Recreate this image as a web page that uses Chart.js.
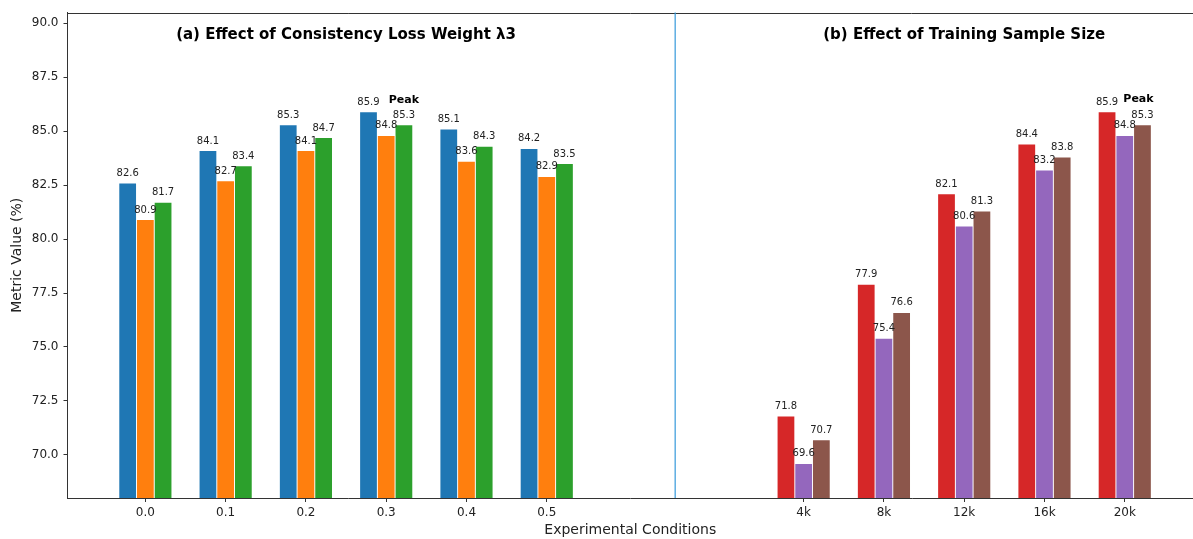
<!DOCTYPE html>
<html>
<head>
<meta charset="utf-8">
<script src="https://cdn.jsdelivr.net/npm/chart.js@4"></script>
<style>
  html, body { margin: 0; padding: 0; background: #fff; }
  canvas { display: block; }
</style>
</head>
<body>
<canvas id="chart" width="1193" height="539"></canvas>
<script>
// panel (a): consistency loss weight, panel (b): training sample size
const lambdaLabels = ['0.0', '0.1', '0.2', '0.3', '0.4', '0.5'];
const lambdaPos = [0, 1, 2, 3, 4, 5];
const sizeLabels = ['4k', '8k', '12k', '16k', '20k'];
const sizePos = [8.2, 9.2, 10.2, 11.2, 12.2];
const dividerPos = 6.6;

const lambdaBlue = [82.6, 84.1, 85.3, 85.9, 85.1, 84.2];
const lambdaOrange = [80.9, 82.7, 84.1, 84.8, 83.6, 82.9];
const lambdaGreen = [81.7, 83.4, 84.7, 85.3, 84.3, 83.5];

const sizeRed = [71.8, 77.9, 82.1, 84.4, 85.9];
const sizePurple = [69.6, 75.4, 80.6, 83.2, 84.8];
const sizeBrown = [70.7, 76.6, 81.3, 83.8, 85.3];

const yTicks = [70, 72.5, 75, 77.5, 80, 82.5, 85, 87.5, 90];

const FONT = '"DejaVu Sans", sans-serif';
const allPos = [...lambdaPos, ...sizePos];
const allLabels = [...lambdaLabels, ...sizeLabels];

function bars(pos, vals, color, stack) {
  return {
    data: pos.map((x, i) => ({ x, y: vals[i] })),
    backgroundColor: color,
    borderColor: 'rgba(255,255,255,0.55)',
    borderWidth: 0.8,
    barThickness: 17.7,
    stack,
  };
}

const datasets = [
  bars(lambdaPos, lambdaBlue, '#1f77b4', 's0'),
  bars(lambdaPos, lambdaOrange, '#ff7f0e', 's1'),
  bars(lambdaPos, lambdaGreen, '#2ca02c', 's2'),
  bars(sizePos, sizeRed, '#d62728', 's0'),
  bars(sizePos, sizePurple, '#9467bd', 's1'),
  bars(sizePos, sizeBrown, '#8c564b', 's2'),
];

const annotate = {
  id: 'annotate',
  afterDatasetsDraw(chart) {
    const { ctx, chartArea: a, scales: { x } } = chart;
    ctx.save();

    // top spine
    ctx.strokeStyle = '#333';
    ctx.lineWidth = 1;
    ctx.beginPath();
    ctx.moveTo(a.left, Math.round(a.top) + 0.5);
    ctx.lineTo(a.right, Math.round(a.top) + 0.5);
    ctx.stroke();

    // divider between the two panels
    const dx = x.getPixelForValue(dividerPos);
    ctx.strokeStyle = 'rgba(52,152,219,0.8)';
    ctx.lineWidth = 1.5;
    ctx.beginPath();
    ctx.moveTo(dx, a.top);
    ctx.lineTo(dx, a.bottom);
    ctx.stroke();

    // value labels
    ctx.fillStyle = '#222';
    ctx.font = '10px ' + FONT;
    ctx.textAlign = 'center';
    ctx.textBaseline = 'alphabetic';
    chart.data.datasets.forEach((ds, di) => {
      chart.getDatasetMeta(di).data.forEach((el, i) => {
        ctx.fillText(ds.data[i].y.toFixed(1), el.x, el.y - 7);
      });
    });

    // peak markers, over the third bar of the best group
    ctx.fillStyle = '#000';
    ctx.font = 'bold 11px ' + FONT;
    const peakA = chart.getDatasetMeta(0).data[3];
    ctx.fillText('Peak', chart.getDatasetMeta(2).data[3].x, peakA.y - 9);
    const peakB = chart.getDatasetMeta(3).data[4];
    ctx.fillText('Peak', chart.getDatasetMeta(5).data[4].x - 4, peakB.y - 10);

    // panel titles
    ctx.font = 'bold 15px ' + FONT;
    ctx.textBaseline = 'middle';
    ctx.fillText('(a) Effect of Consistency Loss Weight λ3', x.getPixelForValue(2.5), 35.5);
    ctx.fillText('(b) Effect of Training Sample Size', x.getPixelForValue(10.2), 35.5);

    ctx.restore();
  }
};

new Chart(document.getElementById('chart'), {
  type: 'bar',
  data: { datasets },
  plugins: [annotate],
  options: {
    responsive: false,
    animation: false,
    layout: { padding: { top: 12.5, right: 0, left: 0, bottom: 0 } },
    plugins: { legend: { display: false }, tooltip: { enabled: false } },
    scales: {
      x: {
        type: 'linear',
        offset: false,
        min: -0.97,
        max: 13.05,
        afterBuildTicks: s => { s.ticks = allPos.map(v => ({ value: v })); },
        afterFit: s => { s.height = 41; },
        ticks: {
          autoSkip: false,
          maxRotation: 0,
          padding: 4,
          color: '#222',
          font: { family: FONT, size: 12 },
          callback: (v, i) => allLabels[i],
        },
        grid: { drawOnChartArea: false, drawTicks: true, tickLength: 4, color: '#333', offset: false },
        border: { color: '#333', width: 1 },
        title: {
          display: true,
          text: 'Experimental Conditions',
          color: '#222',
          font: { family: FONT, size: 14 },
          padding: { top: 0, bottom: 0 },
        },
      },
      y: {
        min: 68,
        max: 90.5,
        stacked: false,
        afterBuildTicks: s => { s.ticks = yTicks.map(v => ({ value: v })); },
        afterFit: s => { s.width = 67.5; },
        ticks: {
          padding: 5,
          color: '#222',
          font: { family: FONT, size: 12 },
          callback: v => Number(v).toFixed(1),
        },
        grid: { drawOnChartArea: false, drawTicks: true, tickLength: 4, color: '#333' },
        border: { color: '#333', width: 1 },
        title: {
          display: true,
          text: 'Metric Value (%)',
          color: '#222',
          font: { family: FONT, size: 14 },
          padding: { top: 9, bottom: 0 },
        },
      },
    },
  },
});
</script>
</body>
</html>
